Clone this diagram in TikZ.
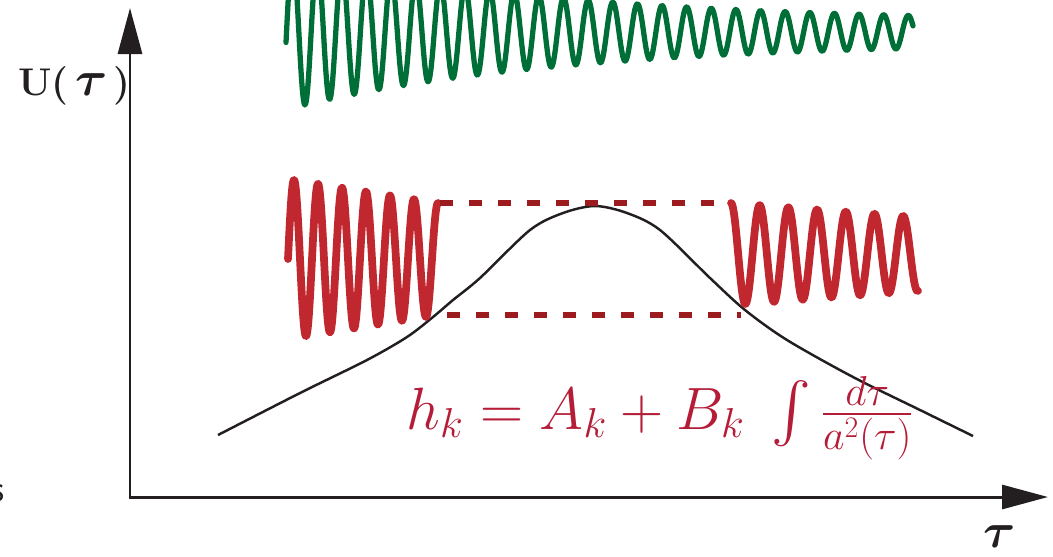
\RequirePackage{fix-cm}
\documentclass[tikz,border=0pt]{standalone}
\usepackage{amsmath}
\usepackage{amssymb}
\usepackage{tikz}
\usetikzlibrary{arrows.meta}
\definecolor{wvgreen}{RGB}{0,110,55}
\definecolor{wvred}{RGB}{193,39,46}
\definecolor{wvdash}{RGB}{155,27,30}
\definecolor{wvink}{RGB}{180,28,55}
\definecolor{wvdark}{RGB}{35,31,32}

\begin{document}
\begin{tikzpicture}[
      x=0.02cm, y=-0.02cm,
      axis/.style={line width=1.7pt, color=wvdark, line cap=rect, -{Triangle[length=0.92cm, width=0.48cm]}},
      osc/.style={line width=4.4pt, color=wvred, line join=round, line cap=round},
      osclong/.style={line width=3pt, color=wvgreen, line join=round, line cap=round},
      dashline/.style={line width=3pt, color=wvdash, dash pattern=on 0.26cm off 0.32cm},
      bump/.style={line width=1.4pt, color=wvdark},
      biglabel/.style={inner sep=0pt, color=wvdark}
    ]
      \clip (0,0) rectangle (1053,556);

      \coordinate (O) at (130,497);
      \coordinate (ytop) at (130,8);
      \coordinate (xend) at (1048,497);
      \draw[axis] (O) -- (ytop);
      \draw[axis] (O) -- (xend);

      \node[biglabel, anchor=base west, font=\fontsize{22}{26}\selectfont\bfseries] (ulabel) at (18,95)
        {U(\,{\fontsize{28}{32}\selectfont$\boldsymbol{\tau}$}\,)};
      \node[biglabel, anchor=base west, font=\fontsize{28}{32}\selectfont] (tlabel) at (983,547) {$\boldsymbol{\tau}$};
      \node[biglabel, anchor=base east, font=\fontsize{22}{26}\selectfont\sffamily] (cut) at (5,501) {s};

      % potential barrier
      \draw[bump] plot[smooth, tension=0.5] coordinates {
        (218,435) (300,393) (367,360) (407,337) (433,317) (453,300) (480,278)
        (530,230) (563,213) (595,206) (627,213) (660,230) (710,278) (745,310)
        (787,340) (853,377) (920,410) (973,436)};

      % modes
      \draw[osclong] plot[domain=286:913, samples=700, smooth]
        (\x, {32 + (10 + 63*exp(-(\x-305)/268))*cos(14.6193*(\x-305))});
      \draw[osc] plot[domain=288:438, samples=300, smooth]
        (\x, {259 - (80 - 0.16*(\x-288))*sin(15*(\x-288))});
      \draw[osc] plot[domain=731:918, samples=300, smooth]
        (\x, {254 - (51 - 0.0749*(\x-731))*cos(12.5436*(\x-731))});

      \coordinate (ua) at (440,203);
      \coordinate (ub) at (716,203);
      \coordinate (la) at (447,315);
      \coordinate (lb) at (741,315);
      \draw[dashline] (ua) -- (ub);
      \draw[dashline] (la) -- (lb);

      \node[inner sep=0pt, anchor=base west, text=wvink, font=\fontsize{34}{40}\selectfont] (hk) at (406,429)
        {$h_k = A_k + B_k \; \int \frac{d\tau}{a^2(\tau)}$};
    \end{tikzpicture}
\end{document}
